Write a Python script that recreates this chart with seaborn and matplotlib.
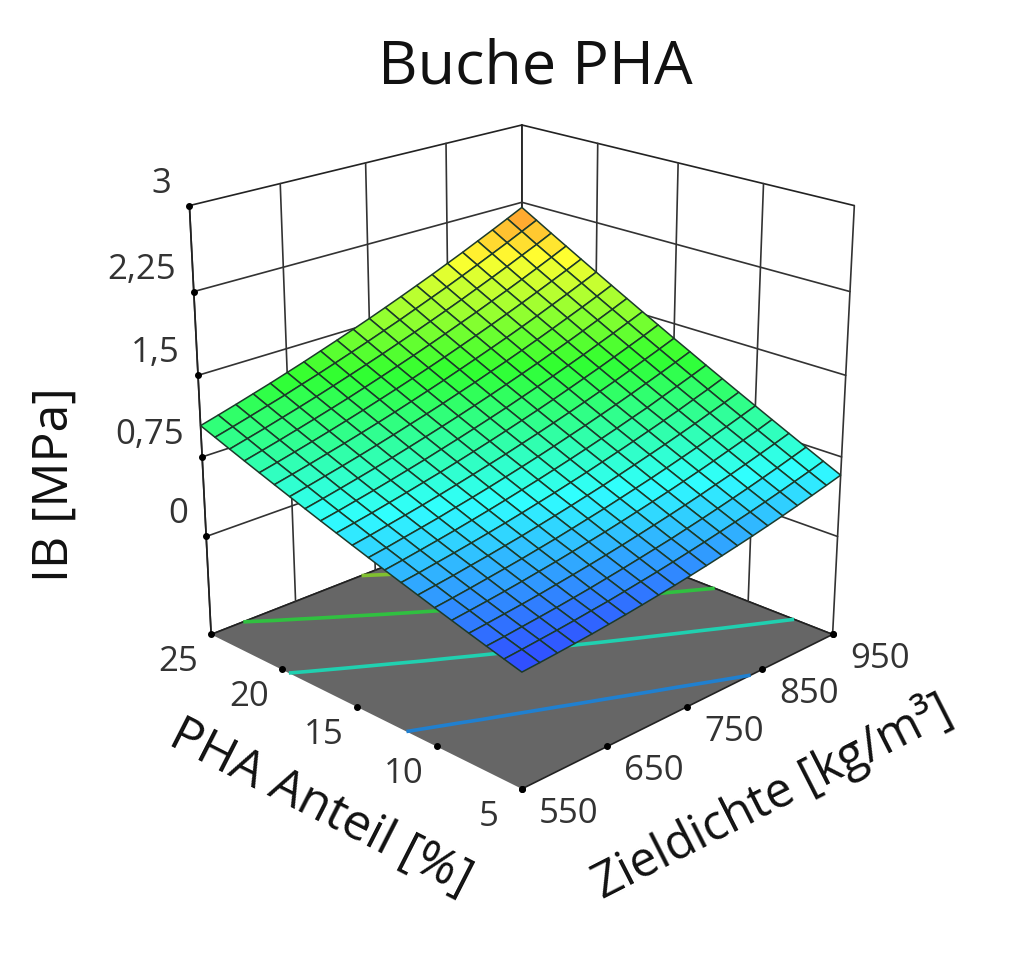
import matplotlib
matplotlib.use("Agg")
import matplotlib.pyplot as plt
from matplotlib.colors import Normalize
from mpl_toolkits.mplot3d import proj3d
import numpy as np
import seaborn as sns

# Zieldichte (x), PHA Anteil (y), IB
density_ticks = [550, 650, 750, 850, 950]
pha_ticks = [5, 10, 15, 20, 25]
ib_ticks = [0, 0.75, 1.5, 2.25, 3]
ib_labels = ["0", "0,75", "1,5", "2,25", "3"]
contour_levels = [0.375, 0.75, 1.125, 1.5]
contour_colors = ["#2080d0", "#20d0b0", "#30c040", "#80c030"]
surface_colors = ["#3030ff", "#30ffff", "#30ff30", "#ffff30", "#ff3030"]

density = [550, 570, 590, 610, 630, 650, 670, 690, 710, 730, 750,
           770, 790, 810, 830, 850, 870, 890, 910, 930, 950]
pha = [5, 6, 7, 8, 9, 10, 11, 12, 13, 14, 15, 16, 17, 18, 19, 20, 21, 22, 23, 24, 25]
ib = [
    [0.070, 0.082, 0.096, 0.111, 0.127, 0.145, 0.164, 0.185, 0.207, 0.230, 0.255, 0.281, 0.309, 0.338, 0.368, 0.400, 0.433, 0.468, 0.504, 0.541, 0.580],
    [0.113, 0.127, 0.143, 0.159, 0.177, 0.197, 0.216, 0.239, 0.263, 0.287, 0.314, 0.342, 0.371, 0.402, 0.434, 0.467, 0.502, 0.538, 0.576, 0.614, 0.655],
    [0.156, 0.171, 0.189, 0.207, 0.226, 0.247, 0.269, 0.294, 0.319, 0.346, 0.374, 0.402, 0.434, 0.466, 0.500, 0.535, 0.571, 0.609, 0.648, 0.689, 0.731],
    [0.200, 0.217, 0.236, 0.255, 0.276, 0.300, 0.324, 0.349, 0.376, 0.404, 0.434, 0.465, 0.497, 0.531, 0.566, 0.604, 0.641, 0.681, 0.722, 0.764, 0.808],
    [0.245, 0.264, 0.284, 0.305, 0.328, 0.353, 0.378, 0.406, 0.434, 0.463, 0.495, 0.528, 0.562, 0.597, 0.634, 0.672, 0.712, 0.754, 0.796, 0.839, 0.885],
    [0.290, 0.310, 0.332, 0.356, 0.380, 0.405, 0.433, 0.461, 0.492, 0.524, 0.556, 0.591, 0.627, 0.663, 0.702, 0.742, 0.783, 0.827, 0.870, 0.916, 0.963],
    [0.336, 0.358, 0.381, 0.407, 0.432, 0.460, 0.488, 0.519, 0.551, 0.584, 0.619, 0.654, 0.692, 0.731, 0.771, 0.812, 0.855, 0.899, 0.946, 0.992, 1.041],
    [0.382, 0.405, 0.431, 0.457, 0.485, 0.514, 0.544, 0.576, 0.610, 0.644, 0.681, 0.718, 0.758, 0.798, 0.840, 0.883, 0.927, 0.973, 1.021, 1.069, 1.120],
    [0.429, 0.454, 0.481, 0.509, 0.538, 0.569, 0.601, 0.635, 0.670, 0.706, 0.744, 0.783, 0.824, 0.866, 0.909, 0.954, 0.998, 1.048, 1.097, 1.147, 1.199],
    [0.477, 0.503, 0.533, 0.562, 0.592, 0.626, 0.659, 0.694, 0.731, 0.769, 0.808, 0.849, 0.892, 0.935, 0.980, 1.026, 1.074, 1.124, 1.174, 1.226, 1.280],
    [0.525, 0.553, 0.584, 0.615, 0.647, 0.681, 0.717, 0.754, 0.792, 0.831, 0.873, 0.915, 0.959, 1.004, 1.051, 1.099, 1.148, 1.199, 1.252, 1.305, 1.360],
    [0.574, 0.604, 0.635, 0.669, 0.703, 0.739, 0.775, 0.814, 0.854, 0.895, 0.938, 0.982, 1.027, 1.074, 1.123, 1.173, 1.223, 1.276, 1.330, 1.384, 1.442],
    [0.623, 0.654, 0.688, 0.722, 0.758, 0.796, 0.834, 0.875, 0.916, 0.959, 1.003, 1.048, 1.096, 1.144, 1.194, 1.246, 1.298, 1.353, 1.408, 1.465, 1.523],
    [0.673, 0.706, 0.741, 0.777, 0.814, 0.853, 0.894, 0.936, 0.979, 1.023, 1.069, 1.116, 1.165, 1.215, 1.266, 1.320, 1.374, 1.430, 1.488, 1.546, 1.606],
    [0.724, 0.759, 0.796, 0.833, 0.872, 0.913, 0.955, 0.999, 1.043, 1.089, 1.137, 1.185, 1.236, 1.287, 1.340, 1.395, 1.451, 1.509, 1.567, 1.627, 1.689],
    [0.775, 0.812, 0.850, 0.890, 0.930, 0.972, 1.015, 1.060, 1.107, 1.155, 1.204, 1.255, 1.307, 1.360, 1.414, 1.470, 1.528, 1.588, 1.648, 1.710, 1.773],
    [0.827, 0.865, 0.905, 0.946, 0.988, 1.032, 1.077, 1.124, 1.172, 1.221, 1.272, 1.324, 1.378, 1.433, 1.489, 1.547, 1.606, 1.667, 1.729, 1.792, 1.857],
    [0.879, 0.919, 0.960, 1.003, 1.047, 1.092, 1.138, 1.187, 1.237, 1.288, 1.340, 1.394, 1.450, 1.507, 1.564, 1.624, 1.684, 1.746, 1.810, 1.875, 1.942],
    [0.932, 0.974, 1.016, 1.061, 1.106, 1.153, 1.202, 1.252, 1.303, 1.355, 1.410, 1.465, 1.522, 1.580, 1.639, 1.701, 1.763, 1.827, 1.893, 1.958, 2.027],
    [0.986, 1.029, 1.074, 1.120, 1.166, 1.216, 1.265, 1.317, 1.370, 1.424, 1.480, 1.536, 1.596, 1.656, 1.716, 1.779, 1.843, 1.909, 1.975, 2.044, 2.114],
    [1.040, 1.085, 1.131, 1.179, 1.227, 1.278, 1.329, 1.383, 1.437, 1.493, 1.550, 1.609, 1.669, 1.731, 1.793, 1.858, 1.923, 1.991, 2.059, 2.129, 2.200],
]
floor_z = -0.95

sns.set_theme(style="white")
plt.rcParams["font.family"] = ["Open Sans", "DejaVu Sans"]

X, Y = np.meshgrid(density, pha)
Z = np.array(ib)
x0, x1 = density_ticks[0], density_ticks[-1]
y0, y1 = pha_ticks[0], pha_ticks[-1]
z1 = ib_ticks[-1]

fig = plt.figure(figsize=(10.24, 9.58), dpi=100)
ax = fig.add_axes([-0.003, 0.0405, 1.0, 1.0], projection="3d", computed_zorder=False)
ax.set_proj_type("persp", focal_length=0.47)
ax.view_init(elev=21, azim=-135)
ax.set_box_aspect((1, 1, 1.01), zoom=0.80)
ax.grid(False)

# panes: white walls, grey floor
for axis, col in zip([ax.xaxis, ax.yaxis, ax.zaxis], ["white", "white", "#666666"]):
    axis.set_pane_color(col)
    axis.pane.set_edgecolor("#222222")
    axis.pane.set_linewidth(1.2)
    axis.line.set_color((0, 0, 0, 0))
    axis.set_ticks([])

wall = dict(color="#333333", lw=1.2, zorder=0.5)
for d in density_ticks[:-1]:
    ax.plot([d, d], [y1, y1], [floor_z, z1], **wall)
for p in pha_ticks[:-1]:
    ax.plot([x1, x1], [p, p], [floor_z, z1], **wall)
for t in ib_ticks[:-1]:
    ax.plot([x0, x1, x1], [y1, y1, y0], [t, t, t], **wall)
ax.plot([x0, x0], [y1, y1], [floor_z, z1], color="#222222", lw=1.2, zorder=0.5)

ax.contour(X, Y, Z, levels=contour_levels, zdir="z", offset=floor_z,
           colors=contour_colors, linewidths=2.6, zorder=1)

cmap = sns.blend_palette(surface_colors, as_cmap=True)
ax.plot_surface(X, Y, Z, rcount=21, ccount=21, cmap=cmap, norm=Normalize(0, 2.5),
                shade=False, edgecolor="#1c3a2a", linewidth=1.1, antialiased=True, zorder=2)

# tick dots
dot = dict(color="black", s=16, depthshade=False, zorder=3)
ax.scatter(density_ticks, [y0] * 5, [floor_z] * 5, **dot)
ax.scatter([x0] * 5, pha_ticks, [floor_z] * 5, **dot)
ax.scatter([x0] * 5, [y1] * 5, ib_ticks, **dot)
ax.scatter([x1], [y0], [floor_z], **dot)

ax.set_xlim(x0, x1)
ax.set_ylim(y0, y1)
ax.set_zlim(floor_z, z1)

# tick labels sit at a fixed offset from the projected tick
M = ax.get_proj()
def tick_label(x, y, z, text, dx, dy, ha="center"):
    px, py, _ = proj3d.proj_transform(x, y, z, M)
    ax.annotate(text, (px, py), xytext=(dx, dy), textcoords="offset pixels", ha=ha,
                va="center", fontsize=25, color="#333333", annotation_clip=False)

for d in density_ticks:
    tick_label(d, y0, floor_z, str(d), 47, -25)
for p in pha_ticks:
    tick_label(x0, p, floor_z, str(p), -33, -28)
for t, lab in zip(ib_ticks, ib_labels):
    tick_label(x0, y1, t, lab, -18, 22, ha="right")

fig.text(535 / 1024, 1 - 68 / 958, "Buche PHA", fontsize=44, color="#111111", ha="center", va="center")
fig.text(55 / 1024, 1 - 485 / 958, "IB [MPa]", fontsize=36, color="#111111", rotation=90, ha="center", va="center")
fig.text(320 / 1024, 1 - 808 / 958, "PHA Anteil [%]", fontsize=36, color="#111111", rotation=-27,
         ha="center", va="center", rotation_mode="anchor")
fig.text(772 / 1024, 1 - 797 / 958, "Zieldichte [kg/m³]", fontsize=35, color="#111111", rotation=27,
         ha="center", va="center", rotation_mode="anchor")

fig.savefig("out.png", dpi=100)
